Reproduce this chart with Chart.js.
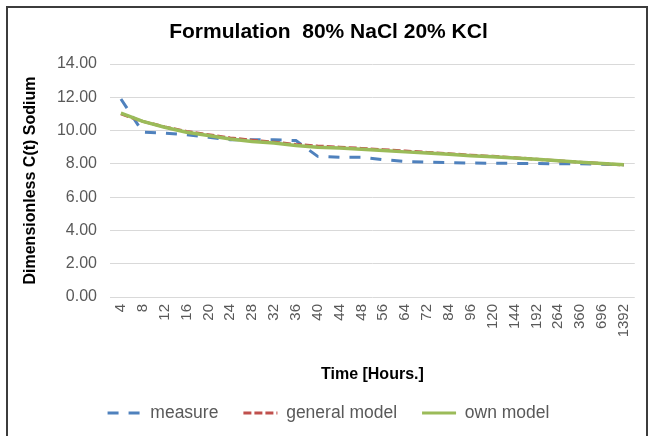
<!DOCTYPE html>
<html><head><meta charset="utf-8">
<script src="https://cdn.jsdelivr.net/npm/chart.js@4/dist/chart.umd.min.js"></script>
<style>
html,body{margin:0;padding:0;background:#fff;}
#wrap{position:relative;width:649px;height:436px;overflow:hidden;background:#fff;}
#frame{position:absolute;left:6px;top:6px;width:642px;height:460px;border:2px solid #3c3c3c;border-bottom:none;box-sizing:border-box;pointer-events:none;}
canvas{position:absolute;left:0;top:0;}
</style></head><body>
<div id="wrap"><canvas id="c" width="649" height="436"></canvas><div id="frame"></div></div>
<script>
const categories = ['4','8','12','16','20','24','28','32','36','40','44','48','56','64','72','84','96','120','144','192','264','360','696','1392'];
const measure      = [11.9, 9.9, 9.85, 9.75, 9.6, 9.45, 9.45, 9.45, 9.4, 8.45, 8.4, 8.4, 8.25, 8.15, 8.1, 8.08, 8.05, 8.04, 8.03, 8.02, 8.0, 8.0, 7.98, 7.95];
const generalModel = [11.0, 10.55, 10.22, 9.95, 9.75, 9.56, 9.42, 9.3, 9.17, 9.07, 9.0, 8.93, 8.85, 8.77, 8.69, 8.61, 8.52, 8.45, 8.37, 8.28, 8.19, 8.1, 8.02, 7.94];
const ownModel     = [11.05, 10.55, 10.2, 9.9, 9.7, 9.5, 9.35, 9.25, 9.1, 9.0, 8.95, 8.88, 8.8, 8.72, 8.65, 8.58, 8.48, 8.42, 8.35, 8.27, 8.18, 8.1, 8.02, 7.94];
const seriesNames  = ['measure', 'general model', 'own model'];
const yMin = 0, yMax = 14, yStep = 2;

const FONT = "'Liberation Sans', Arial, sans-serif";
const GRAY = '#595959';

new Chart(document.getElementById('c'), {
  type: 'line',
  data: {
    labels: categories,
    datasets: [
      { label: seriesNames[0], data: measure, borderColor: '#4F81BD', backgroundColor: '#4F81BD',
        borderWidth: 3, borderDash: [11, 10], pointRadius: 0, order: 3, fill: false },
      { label: seriesNames[1], data: generalModel, borderColor: '#C0504D', backgroundColor: '#C0504D',
        borderWidth: 3, borderDash: [8, 3], pointRadius: 0, order: 2, fill: false },
      { label: seriesNames[2], data: ownModel, borderColor: '#9BBB59', backgroundColor: '#9BBB59',
        borderWidth: 3.5, pointRadius: 0, order: 1, fill: false }
    ]
  },
  options: {
    responsive: false,
    animation: false,
    devicePixelRatio: 1,
    layout: { padding: { left: 16, right: 8, top: 0, bottom: 4.25 } },
    plugins: {
      tooltip: { enabled: false },
      title: {
        display: true,
        text: 'Formulation  80% NaCl 20% KCl',
        color: '#000',
        font: { family: FONT, size: 21, weight: 'bold' },
        padding: { top: 19.9, bottom: 18.9 }
      },
      legend: {
        position: 'bottom',
        align: 'center',
        labels: {
          color: GRAY,
          font: { family: FONT, size: 17.5 },
          usePointStyle: true,
          pointStyle: 'line',
          pointStyleWidth: 34,
          boxHeight: 17,
          padding: 25,
          sort: (a, b) => a.datasetIndex - b.datasetIndex,
          generateLabels: (chart) => {
            const items = Chart.defaults.plugins.legend.labels.generateLabels(chart);
            items.forEach(it => {
              const ds = chart.data.datasets[it.datasetIndex];
              it.pointStyle = 'line';
              it.lineWidth = 3;
              it.lineCap = 'butt';
              it.strokeStyle = ds.borderColor;
              it.lineDash = ds.borderDash || [];
            });
            return items;
          }
        }
      }
    },
    scales: {
      x: {
        type: 'category',
        offset: true,
        grid: { display: false, drawTicks: false },
        border: { display: false },
        ticks: {
          color: GRAY,
          font: { family: FONT, size: 15 },
          minRotation: 90, maxRotation: 90,
          autoSkip: false,
          padding: 7
        },
        title: {
          display: true,
          text: 'Time [Hours.]',
          color: '#000',
          font: { family: FONT, size: 16, weight: 'bold' },
          padding: { top: 4, bottom: -5.35 }
        },
        afterFit: (s) => { s.height = 82.25; }
      },
      y: {
        min: yMin, max: yMax,
        grid: { color: '#D9D9D9', lineWidth: 1, drawTicks: false },
        border: { display: false },
        ticks: {
          stepSize: yStep,
          color: GRAY,
          font: { family: FONT, size: 16 },
          padding: 13,
          callback: (v) => Number(v).toFixed(2)
        },
        title: {
          display: true,
          text: 'Dimensionless C(t) Sodium',
          color: '#000',
          font: { family: FONT, size: 16, weight: 'bold' },
          padding: { top: 5.4, bottom: 4 }
        },
        afterFit: (s) => { s.width = 94; }
      }
    }
  }
});
</script>
</body></html>
